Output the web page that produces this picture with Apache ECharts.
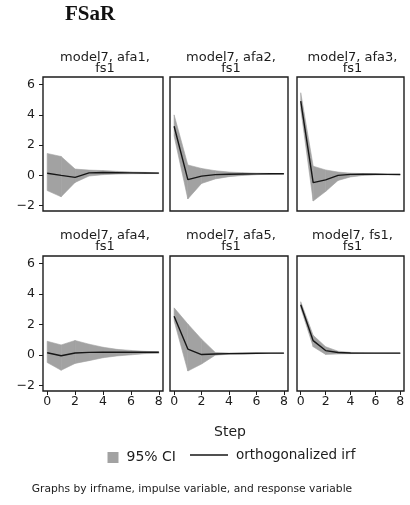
<!DOCTYPE html>
<html>
<head>
<meta charset="utf-8">
<script src="https://cdn.jsdelivr.net/npm/echarts@6/dist/echarts.min.js"></script>
<style>
  html, body { margin: 0; padding: 0; background: #ffffff; }
  #chart { width: 410px; height: 505px; }
</style>
</head>
<body>
<div id="chart"></div>
<script>
// Impulse-response steps
const steps = [0, 1, 2, 3, 4, 5, 6, 7, 8];

// Panel headings (irfname, impulse, response)
const panelTitles = [
  'model7, afa1,\nfs1',
  'model7, afa2,\nfs1',
  'model7, afa3,\nfs1',
  'model7, afa4,\nfs1',
  'model7, afa5,\nfs1',
  'model7, fs1,\nfs1'
];

// Orthogonalized IRF and its 95% confidence bounds, one set per impulse
const irfAfa1 = [0.14, 0.00, -0.13, 0.17, 0.19, 0.18, 0.17, 0.16, 0.15];
const loAfa1  = [-1.00, -1.41, -0.46, -0.04, 0.05, 0.09, 0.11, 0.12, 0.12];
const hiAfa1  = [1.45, 1.25, 0.42, 0.35, 0.32, 0.27, 0.23, 0.20, 0.18];

const irfAfa2 = [3.25, -0.28, -0.05, 0.05, 0.08, 0.09, 0.10, 0.11, 0.11];
const loAfa2  = [2.60, -1.55, -0.53, -0.23, -0.08, 0.00, 0.05, 0.08, 0.09];
const hiAfa2  = [4.00, 0.69, 0.46, 0.31, 0.22, 0.18, 0.15, 0.13, 0.12];

const irfAfa3 = [4.91, -0.48, -0.29, 0.00, 0.07, 0.08, 0.08, 0.07, 0.06];
const loAfa3  = [4.40, -1.69, -1.06, -0.33, -0.10, 0.00, 0.03, 0.04, 0.05];
const hiAfa3  = [5.46, 0.61, 0.36, 0.22, 0.15, 0.12, 0.10, 0.08, 0.07];

const irfAfa4 = [0.16, -0.04, 0.14, 0.18, 0.19, 0.19, 0.20, 0.19, 0.19];
const loAfa4  = [-0.48, -0.99, -0.54, -0.36, -0.17, -0.05, 0.02, 0.10, 0.12];
const hiAfa4  = [0.91, 0.67, 0.96, 0.72, 0.52, 0.38, 0.31, 0.25, 0.22];

const irfAfa5 = [2.55, 0.40, 0.04, 0.08, 0.10, 0.11, 0.12, 0.13, 0.13];
const loAfa5  = [2.25, -1.04, -0.58, 0.00, 0.06, 0.08, 0.10, 0.11, 0.12];
const hiAfa5  = [3.10, 2.04, 1.05, 0.18, 0.14, 0.14, 0.14, 0.14, 0.14];

const irfFs1 = [3.30, 0.95, 0.30, 0.17, 0.14, 0.13, 0.13, 0.13, 0.13];
const loFs1  = [3.10, 0.55, 0.05, 0.08, 0.10, 0.11, 0.12, 0.12, 0.12];
const hiFs1  = [3.50, 1.30, 0.55, 0.26, 0.18, 0.15, 0.14, 0.14, 0.14];

// Axis ticks
const yTicks = [-2, 0, 2, 4, 6];
const xTicks = [0, 2, 4, 6, 8];

const panels = [
  { title: panelTitles[0], irf: irfAfa1, lo: loAfa1, hi: hiAfa1 },
  { title: panelTitles[1], irf: irfAfa2, lo: loAfa2, hi: hiAfa2 },
  { title: panelTitles[2], irf: irfAfa3, lo: loAfa3, hi: hiAfa3 },
  { title: panelTitles[3], irf: irfAfa4, lo: loAfa4, hi: hiAfa4 },
  { title: panelTitles[4], irf: irfAfa5, lo: loAfa5, hi: hiAfa5 },
  { title: panelTitles[5], irf: irfFs1,  lo: loFs1,  hi: hiFs1 }
];

// 2 x 3 layout of plot regions
const grids = [
  { left: 43,  top: 77,  width: 120, height: 134 },
  { left: 170, top: 77,  width: 118, height: 134 },
  { left: 297, top: 77,  width: 107, height: 134 },
  { left: 43,  top: 256, width: 120, height: 135 },
  { left: 170, top: 256, width: 118, height: 135 },
  { left: 297, top: 256, width: 107, height: 135 }
];

const sans = 'DejaVu Sans';
const ink = '#1c1c1c';
const ciColor = '#a2a2a2';
const irfColor = '#161616';

const fmtNum = v => (v < 0 ? '\u2212' + Math.abs(v) : String(v));

// Confidence band: one filled quadrilateral between consecutive steps
function renderBand(params, api) {
  const k = params.dataIndexInside;
  if (k >= params.dataInsideLength - 1) return null;
  const a = api.coord([api.value(0, k), api.value(2, k)]);
  const b = api.coord([api.value(0, k + 1), api.value(2, k + 1)]);
  const c = api.coord([api.value(0, k + 1), api.value(1, k + 1)]);
  const d = api.coord([api.value(0, k), api.value(1, k)]);
  return {
    type: 'polygon',
    shape: { points: [a, b, c, d] },
    style: { fill: ciColor, stroke: ciColor, lineWidth: 0.6 }
  };
}

const titleItems = [
  { text: 'FSaR', left: 65, top: 4, padding: 0,
    textStyle: { fontFamily: 'Liberation Serif', fontWeight: 'bold', fontSize: 21, color: '#111' } }
];
grids.forEach((g, i) => {
  titleItems.push({
    text: panels[i].title,
    left: g.left + g.width / 2 + 2,
    top: i < 3 ? 52.5 : 230.5,
    textAlign: 'center',
    padding: 0,
    textStyle: { fontFamily: sans, fontWeight: 'normal', fontSize: 13, lineHeight: 11, color: ink }
  });
});
titleItems.push({
  text: 'Step', left: 230, top: 425, textAlign: 'center', padding: 0,
  textStyle: { fontFamily: sans, fontWeight: 'normal', fontSize: 14, color: ink }
});
titleItems.push({
  text: 'Graphs by irfname, impulse variable, and response variable',
  left: 192, top: 484, textAlign: 'center', padding: 0,
  textStyle: { fontFamily: sans, fontWeight: 'normal', fontSize: 10.7, color: ink }
});

const series = [];
panels.forEach((p, i) => {
  series.push({
    type: 'custom', name: '95% CI', xAxisIndex: i, yAxisIndex: i,
    data: steps.map((s, k) => [s, p.lo[k], p.hi[k]]),
    encode: { x: 0, y: [1, 2] },
    renderItem: renderBand,
    clip: true, silent: true, z: 2,
    itemStyle: { color: ciColor }
  });
  series.push({
    type: 'line', name: 'orthogonalized irf', xAxisIndex: i, yAxisIndex: i,
    data: steps.map((s, k) => [s, p.irf[k]]),
    symbol: 'none', silent: true, z: 5,
    lineStyle: { color: irfColor, width: 1.4 },
    itemStyle: { color: irfColor }
  });
});

const option = {
  backgroundColor: '#ffffff',
  animation: false,
  title: titleItems,
  legend: [
    { data: [{ name: '95% CI', icon: 'rect' }], left: 107.5, top: 450.5, padding: 0,
      itemWidth: 11, itemHeight: 11, selectedMode: false,
      textStyle: { fontFamily: sans, fontSize: 14, color: ink, padding: [0, 0, 0, 3] } },
    { data: [{ name: 'orthogonalized irf', icon: 'rect' }], left: 190, top: 448, padding: 0,
      itemWidth: 38, itemHeight: 1.5, selectedMode: false,
      textStyle: { fontFamily: sans, fontSize: 13.5, color: ink, padding: [0, 0, 0, 3] } }
  ],
  grid: grids.map(g => Object.assign({}, g, { show: true, borderColor: ink, borderWidth: 1.4, containLabel: false })),
  xAxis: grids.map((g, i) => ({
    gridIndex: i, type: 'value', min: -0.3, max: 8.3, position: 'bottom',
    axisLine: { show: false, onZero: false }, splitLine: { show: false },
    axisTick: { show: i >= 3, customValues: xTicks, length: 4, lineStyle: { color: ink, width: 1 } },
    axisLabel: { show: i >= 3, customValues: xTicks, margin: 4, fontFamily: sans, fontSize: 12.5, color: ink }
  })),
  yAxis: grids.map((g, i) => ({
    gridIndex: i, type: 'value', min: -2.35, max: 6.5, position: 'left',
    axisLine: { show: false, onZero: false }, splitLine: { show: false },
    axisTick: { show: i % 3 === 0, customValues: yTicks, length: 4, lineStyle: { color: ink, width: 1 } },
    axisLabel: { show: i % 3 === 0, customValues: yTicks, margin: 8, fontFamily: sans, fontSize: 12.5,
                 color: ink, formatter: fmtNum }
  })),
  series: series
};

const chart = echarts.init(document.getElementById('chart'), null, { renderer: 'canvas' });
chart.setOption(option);
</script>
</body>
</html>
